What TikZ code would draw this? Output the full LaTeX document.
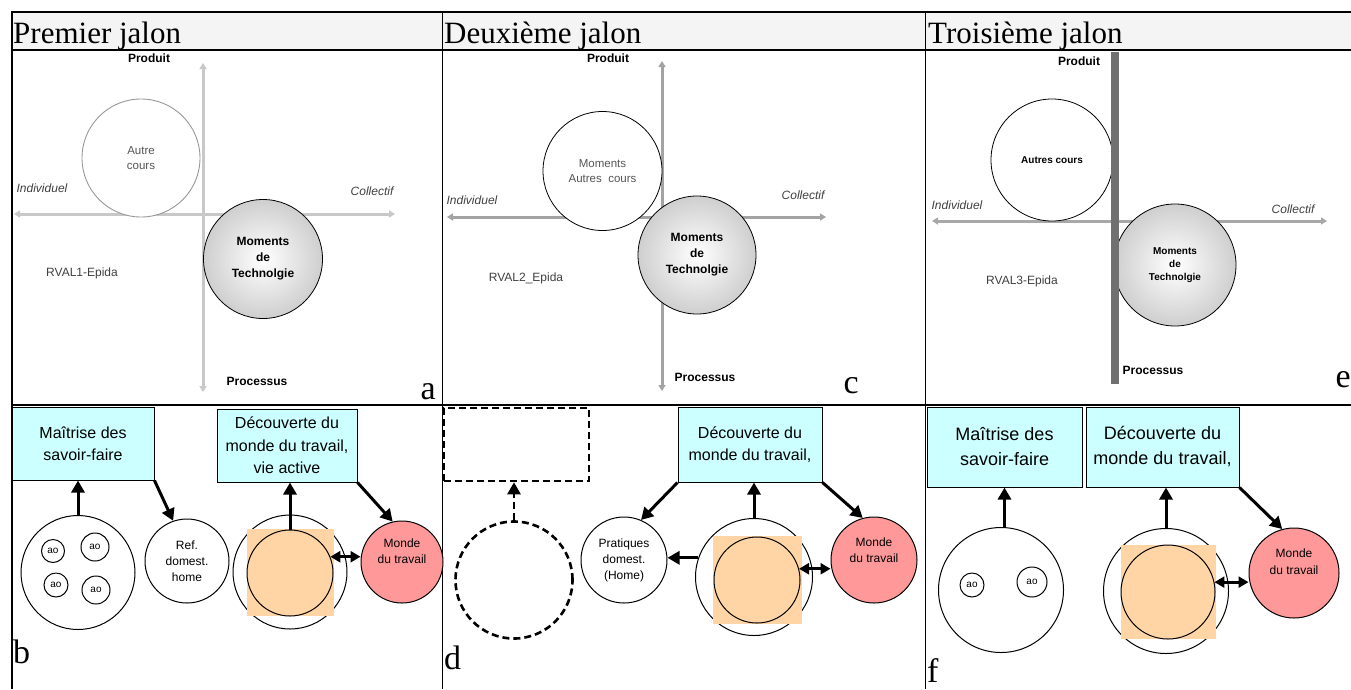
\documentclass[tikz,border=0pt]{standalone}
\usepackage{fontspec}
\setmainfont{Liberation Serif}
\newfontfamily\arial{Liberation Sans}
\usetikzlibrary{arrows.meta}
\definecolor{hdr}{HTML}{F4F4F4}
\definecolor{axA}{HTML}{C8C8C8}
\definecolor{axC}{HTML}{A3A3A3}
\definecolor{axE}{HTML}{A8A8A8}
\definecolor{barE}{HTML}{707070}
\definecolor{cyanbox}{HTML}{CCFFFF}
\definecolor{peach}{HTML}{FFD5A6}
\definecolor{monde}{HTML}{FF9999}
\definecolor{txtgray}{HTML}{404040}
\definecolor{circgray}{HTML}{555555}
\begin{document}
\begin{tikzpicture}[x=1pt,y=-1pt,
  ttl/.style={font=\fontsize{31}{36}\selectfont, inner sep=0, anchor=base west},
  letr/.style={font=\fontsize{34}{40}\selectfont, inner sep=0},
  tline/.style={line width=1.8pt, draw=black},
  axisA/.style={draw=axA, line width=3pt, {Triangle[length=6pt,width=7pt]}-{Triangle[length=6pt,width=7pt]}},
  axisC/.style={draw=axC, line width=3pt, {Triangle[length=6pt,width=7pt]}-{Triangle[length=6pt,width=7pt]}},
  axisE/.style={draw=axE, line width=3pt, {Triangle[length=6pt,width=7pt]}-{Triangle[length=6pt,width=7pt]}},
  axlbl/.style={font=\arial\bfseries\fontsize{12}{14}\selectfont, inner sep=0},
  axit/.style={font=\arial\itshape\fontsize{12}{14}\selectfont, inner sep=0, text=txtgray},
  rval/.style={font=\arial\fontsize{12}{14}\selectfont, inner sep=0, text=txtgray},
  mom/.style={circle, draw=black, line width=0.8pt, inner color=white, outer color=black!19, inner sep=0, align=center},
  plaincirc/.style={circle, line width=0.9pt, fill=white, inner sep=0, align=center},
  cbox/.style={draw=black, line width=1pt, fill=cyanbox, inner sep=0, align=center, font=\arial\fontsize{16}{22.5}\selectfont},
  cboxf/.style={cbox, font=\arial\fontsize{18}{25}\selectfont},
  rng/.style={circle, draw=black, line width=1pt, fill=white, inner sep=0, align=center, font=\arial\fontsize{12}{16}\selectfont},
  aocirc/.style={circle, draw=black, line width=1pt, fill=white, inner sep=0, font=\arial\fontsize{10}{12}\selectfont},
  peachsq/.style={rectangle, fill=peach, inner sep=0},
  mondec/.style={circle, draw=black, line width=1pt, fill=monde, inner sep=0},
  mtext/.style={inner sep=0, align=center, font=\arial\fontsize{12}{16.5}\selectfont},
  barrow/.style={draw=black, line width=3pt, -{Triangle[length=12pt,width=13pt]}},
  bdarrow/.style={draw=black, line width=3pt, {Triangle[length=10pt,width=11pt]}-{Triangle[length=10pt,width=11pt]}},
  dashline/.style={draw=black, line width=2.6pt, dash pattern=on 7pt off 4pt},
  dasharrow/.style={dashline, -{Triangle[length=12pt,width=13pt]}}
]
\useasboundingbox (0,0) rectangle (1351,689);
\fill[white] (0,0) rectangle (1351,689);
% ---------- table ----------
\fill[hdr] (12,12) rectangle (1351,50);
\draw[tline] (12,12) -- (1351,12);
\draw[tline] (12,50) -- (1351,50);
\draw[tline] (12,405) -- (1351,405);
\draw[tline] (12,11.1) -- (12,689);
\draw[tline] (442.5,11.1) -- (442.5,689);
\draw[tline] (925.5,11.1) -- (925.5,689);
\node[ttl] (t1) at (13,43) {Premier jalon};
\node[ttl] (t2) at (444,43) {Deuxième jalon};
\node[ttl] (t3) at (928,43) {Troisième jalon};

% ---------- panel a ----------
\coordinate (aT) at (203,63);
\coordinate (aB) at (203,392);
\coordinate (aL) at (14,214);
\coordinate (aR) at (395,214);
\draw[axisA] (aB) -- (aT);
\draw[axisA] (aL) -- (aR);
\node[plaincirc, draw=black!40, minimum size=118pt, text=circgray, font=\arial\fontsize{11.5}{15}\selectfont] (autA) at (141,158) {Autre\\cours};
\node[mom, minimum size=119pt, font=\arial\bfseries\fontsize{12}{16}\selectfont] (momA) at (263,259) {Moments\\de\\Technolgie};
\node[axlbl] (prodA) at (149,58) {Produit};
\node[axlbl] (procA) at (257,381) {Processus};
\node[axit] (indA) at (42,188) {Individuel};
\node[axit] (colA) at (372,191) {Collectif};
\node[rval] (rvA) at (82,273) {RVAL1-Epida};
\node[letr, anchor=base east] (la) at (436,399) {a};

% ---------- panel c ----------
\coordinate (cT) at (662,61);
\coordinate (cB) at (662,391);
\coordinate (cL) at (447,217);
\coordinate (cR) at (826,217);
\draw[axisC] (cB) -- (cT);
\draw[axisC] (cL) -- (cR);
\node[plaincirc, draw=black, line width=0.8pt, minimum size=119pt, text=circgray, font=\arial\fontsize{11.5}{15}\selectfont] (autC) at (602.5,171) {Moments\\Autres\ \ cours};
\node[mom, minimum size=118pt, font=\arial\bfseries\fontsize{12}{16}\selectfont] (momC) at (697,255) {Moments\\de\\Technolgie};
\node[axlbl] (prodC) at (608,58) {Produit};
\node[axlbl] (procC) at (705,377) {Processus};
\node[axit] (indC) at (472,200) {Individuel};
\node[axit] (colC) at (803,195) {Collectif};
\node[rval] (rvC) at (526,278) {RVAL2\_Epida};
\node[letr, anchor=base east] (lc) at (859,393) {c};

% ---------- panel e ----------
\coordinate (eL) at (932,221);
\coordinate (eR) at (1327,221);
\coordinate (eT) at (1115,52);
\coordinate (eB) at (1115,384);
\draw[axisE] (eL) -- (eR);
\node[plaincirc, draw=black, line width=0.8pt, minimum size=122pt, font=\arial\bfseries\fontsize{10}{13}\selectfont] (autE) at (1052,160) {Autres cours};
\node[mom, minimum size=122pt, font=\arial\bfseries\fontsize{10}{13}\selectfont] (momE) at (1175,265) {Moments\\de\\Technolgie};
\draw[draw=barE, line width=8pt] (eT) -- (eB);
\node[axlbl] (prodE) at (1079,61) {Produit};
\node[axlbl] (procE) at (1153,370) {Processus};
\node[axit] (indE) at (957,205) {Individuel};
\node[axit] (colE) at (1293,209) {Collectif};
\node[rval] (rvE) at (1022,281) {RVAL3-Epida};
\node[letr, anchor=base east] (le) at (1351,387) {e};

% ---------- panel b ----------
\node[cbox, minimum width=142pt, minimum height=73pt] (maitb) at (83,443.5) {Maîtrise des\\savoir-faire};
\node[cbox, minimum width=140pt, minimum height=73pt] (decb) at (287,445.5) {Découverte du\\monde du travail,\\vie active};
\node[rng, minimum size=114pt] (bigb) at (78,572.5) {};
\node[aocirc, minimum size=23pt] (ao1) at (53,551) {ao};
\node[aocirc, minimum size=28pt] (ao2) at (95,547) {ao};
\node[aocirc, minimum size=24pt] (ao3) at (56,585) {ao};
\node[aocirc, minimum size=28pt] (ao4) at (96,590) {ao};
\node[rng, minimum size=84pt] (refb) at (187,561) {Ref.\\domest.\\home};
\node[rng, minimum size=114pt] (outb) at (290,572) {};
\node[peachsq, minimum size=87pt] (sqb) at (290.5,572.5) {};
\node[rng, fill=none, minimum size=86pt] (innb) at (290,573) {};
\node[mondec, minimum size=82pt] (mondeb) at (402,562) {};
\node[mtext] (mondebt) at (402,551) {Monde\\du travail};
\draw[barrow] (bigb.north) -- (bigb.north |- maitb.south);
\draw[barrow] (maitb.south east) -- (refb.109);
\draw[barrow] (innb.north) -- (innb.north |- decb.south);
\draw[barrow] (decb.south east) -- (mondeb.103);
\draw[bdarrow] (innb.22) -- (mondeb.west |- innb.22);
\node[letr, anchor=base west] (lb) at (13,663) {b};

% ---------- panel d ----------
\node[dashline, rectangle, inner sep=0, minimum width=145pt, minimum height=73pt] (dbox) at (516.5,444.5) {};
\node[dashline, circle, inner sep=0, minimum size=117pt] (dcirc) at (514,580) {};
\draw[dasharrow] (dcirc.north) -- (dcirc.north |- dbox.south);
\node[cbox, minimum width=144pt, minimum height=75pt] (decd) at (750,444.5) {Découverte du\\monde du travail,};
\node[rng, minimum size=86pt] (pratd) at (624,560) {Pratiques\\domest.\\(Home)};
\node[rng, minimum size=117pt] (outd) at (754,577) {};
\node[peachsq, minimum width=89pt, minimum height=88pt] (sqd) at (757.5,580) {};
\node[rng, fill=none, minimum size=86pt] (innd) at (757,580) {};
\node[mondec, minimum size=86pt] (monded) at (874,560) {};
\node[mtext] (mondedt) at (874,550) {Monde\\du travail};
\draw[barrow] (decd.south west) -- (pratd.67);
\draw[barrow] (outd.north) -- (outd.north |- decd.south);
\draw[barrow] (decd.south east) -- (monded.105);
\draw[barrow] (outd.161) -- (pratd.east |- outd.161);
\draw[bdarrow] (innd.15) -- (monded.west |- innd.15);
\node[letr, anchor=base west] (ld) at (444,669) {d};

% ---------- panel f ----------
\node[cboxf, minimum width=155pt, minimum height=80pt] (maitf) at (1004.5,447) {Maîtrise des\\savoir-faire};
\node[cboxf, minimum width=153pt, minimum height=80pt] (decf) at (1162.5,447) {Découverte du\\monde du travail,};
\node[rng, minimum size=125pt] (bigf) at (1001,590) {};
\node[aocirc, minimum size=24pt] (ao5) at (972,585) {ao};
\node[aocirc, minimum size=30pt] (ao6) at (1032,582) {ao};
\node[rng, minimum size=125pt] (outf) at (1166,591) {};
\node[peachsq, minimum width=95pt, minimum height=94pt] (sqf) at (1168.5,592) {};
\node[rng, fill=none, minimum size=94pt] (innf) at (1168,592) {};
\node[mondec, minimum size=90pt] (mondef) at (1294,573) {};
\node[mtext] (mondeft) at (1294,561.5) {Monde\\du travail};
\draw[barrow] (maitf.south |- bigf.north) -- (maitf.south);
\draw[barrow] (outf.north) -- (outf.north |- decf.south);
\draw[barrow] (decf.south east) -- (mondef.105);
\draw[bdarrow] (innf.12) -- (mondef.west |- innf.12);
\node[letr, anchor=base west] (lf) at (927,682) {f};
\end{tikzpicture}
\end{document}
